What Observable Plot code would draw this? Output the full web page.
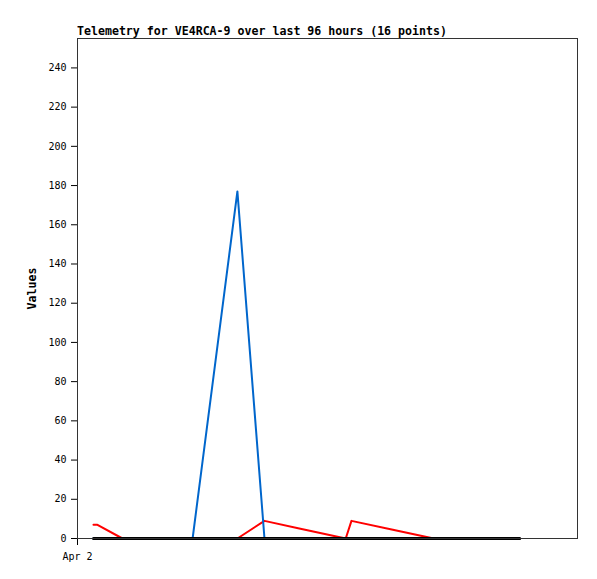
<!DOCTYPE html>
<html>
<head>
<meta charset="utf-8">
<script src="https://cdn.jsdelivr.net/npm/d3@7"></script>
<script src="https://cdn.jsdelivr.net/npm/@observablehq/plot@0.6"></script>
<style>
  body { margin: 0; background: #fff; }
  #title { height: 37px; position: relative; font-family: "DejaVu Sans Mono", monospace; font-weight: bold; font-size: 11.6px; }
  #title span { position: absolute; left: 77px; top: 25px; line-height: 12px; }
  #chart svg [aria-label="y-axis label"] text { font-weight: bold; font-size: 11.6px; }
</style>
</head>
<body>
<div id="title"><span>Telemetry for VE4RCA-9 over last 96 hours (16 points)</span></div>
<div id="chart"></div>
<script>
// Sample times (UTC)
const times = [
  "2024-04-02T03:04Z", "2024-04-02T03:50Z", "2024-04-02T08:38Z", "2024-04-02T14:00Z",
  "2024-04-02T18:12Z", "2024-04-02T22:06Z", "2024-04-03T06:42Z", "2024-04-03T11:54Z",
  "2024-04-03T18:48Z", "2024-04-04T03:30Z", "2024-04-04T04:36Z", "2024-04-04T12:06Z",
  "2024-04-04T20:24Z", "2024-04-05T01:30Z", "2024-04-05T07:18Z", "2024-04-05T12:54Z"
];
// Series values
const redValues   = [7, 7, 0, 0, 0, 0, 0, 9, 5, 0, 9, 4.7, 0, 0, 0, 0];
const blueValues  = [0, 0, 0, 0, 0, 0, 177, 0, 0, 0, 0, 0, 0, 0, 0, 0];
const blackValues = [0, 0, 0, 0, 0, 0, 0, 0, 0, 0, 0, 0, 0, 0, 0, 0];
// Axis
const xDomain = ["2024-04-02T00:00Z", "2024-04-06T00:00Z"];
const xTicks = ["2024-04-02T00:00Z"];
const yTicks = [0, 20, 40, 60, 80, 100, 120, 140, 160, 180, 200, 220, 240];
const yMax = 255;

const t = times.map(s => new Date(s));
const rows = (vals) => vals.map((v, i) => ({ t: t[i], v }));

const chart = Plot.plot({
  width: 597,
  height: 542,
  marginLeft: 77,
  marginRight: 20,
  marginTop: 1,
  marginBottom: 41,
  style: { fontFamily: "DejaVu Sans Mono, monospace", fontSize: "10px", color: "#000", background: "#fff" },
  x: { type: "utc", domain: xDomain.map(s => new Date(s)) },
  y: { domain: [0, yMax] },
  marks: [
    Plot.axisX({ ticks: xTicks.map(s => new Date(s)), tickFormat: d3.utcFormat("%b %-d"), tickSize: 7, tickPadding: 7, label: null }),
    Plot.axisY({ ticks: yTicks, tickSize: 6, tickPadding: 5, label: "Values", labelAnchor: "center", labelArrow: "none", labelOffset: 50 }),
    Plot.lineY(rows(redValues), { x: "t", y: "v", stroke: "#ff0000", strokeWidth: 2 }),
    Plot.lineY(rows(blueValues), { x: "t", y: "v", stroke: "#0066cc", strokeWidth: 2 }),
    Plot.lineY(rows(blackValues), { x: "t", y: "v", stroke: "#000000", strokeWidth: 3 }),
    Plot.frame({ stroke: "#333", strokeWidth: 1 })
  ]
});
document.getElementById("chart").appendChild(chart);
</script>
</body>
</html>
